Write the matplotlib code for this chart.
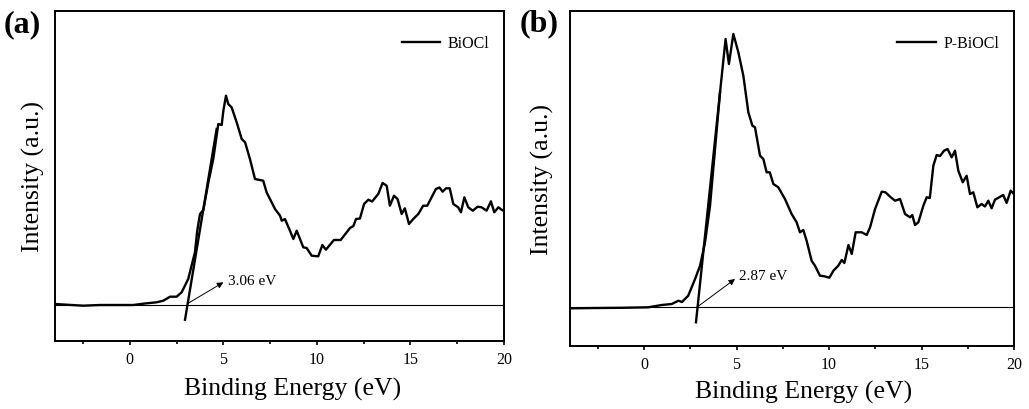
import numpy as np
import matplotlib
matplotlib.use("Agg")
import matplotlib.pyplot as plt

plt.rcParams['font.family'] = ['Liberation Serif', 'DejaVu Serif']

# --- data (intensity in arbitrary units) ---
xa = [-4, -2.49, -1.6, 0.18, 0.9, 1.43, 1.79, 2.15, 2.5, 2.77, 3.12, 3.48, 3.6, 3.75, 3.93,
      4.2, 4.46, 4.73, 4.91, 5.0, 5.14, 5.26, 5.44, 5.71, 5.98, 6.16, 6.42, 6.69, 7.13,
      7.31, 7.58, 7.76, 8.03, 8.12, 8.29, 8.56, 8.74, 8.92, 9.27, 9.45, 9.72, 10.07,
      10.29, 10.48, 10.91, 11.27, 11.59, 11.77, 11.95, 12.09, 12.3, 12.52, 12.75, 12.95,
      13.28, 13.51, 13.73, 13.9, 14.12, 14.31, 14.53, 14.7, 14.92, 15.15, 15.42, 15.68,
      15.9, 16.13, 16.36, 16.55, 16.72, 16.9, 17.1, 17.29, 17.55, 17.7, 17.88, 18.09,
      18.33, 18.59, 18.8, 19.07, 19.3, 19.48, 19.7, 19.87, 20.0]
ya = [37, 35.3, 36, 36, 37.7, 38.7, 40.3, 44.3, 44.3, 48.7, 62, 88.7, 110, 127, 131,
      158.7, 182, 217, 216, 230.3, 245.3, 237, 233.7, 218.7, 202, 198.7, 182, 162, 160.3,
      148.7, 138.7, 132, 125.3, 120.3, 122, 110.3, 102, 110.3, 93.7, 93, 85.3, 84.7,
      96, 91.3, 101, 101, 108.7, 113, 115, 122, 122.5, 137, 141.3, 139.5,
      147, 158, 155.3, 135.3, 145.3, 142, 127, 132.7, 117, 122, 127, 135.3,
      135.3, 143.7, 152, 153.5, 149.3, 152.7, 152.7, 137, 133.7, 128.7, 143.7, 133.7,
      130.3, 134.3, 133.7, 130.3, 139.7, 128.7, 133.7, 131.3, 130]

xb = [-3.9, -2.5, -1.2, 0.23, 0.96, 1.5, 1.86, 2.05, 2.39, 2.76, 3.03, 3.3, 3.57, 3.84,
      4.11, 4.41, 4.59, 4.83, 5.1, 5.37, 5.64, 5.86, 6.0, 6.27, 6.45, 6.63, 6.8, 6.99,
      7.26, 7.62, 7.98, 8.25, 8.43, 8.61, 8.79, 9.06, 9.25, 9.51, 9.75, 10.02, 10.24,
      10.5, 10.69, 10.83, 11.05, 11.23, 11.44, 11.77, 12.04, 12.22, 12.49, 12.85, 13.05,
      13.34, 13.57, 13.84, 14.11, 14.38, 14.5, 14.65, 14.83, 15.1, 15.28, 15.45, 15.64,
      15.82, 16.0, 16.22, 16.41, 16.63, 16.81, 16.99, 17.23, 17.44, 17.62, 17.8, 18.02,
      18.25, 18.43, 18.61, 18.79, 18.97, 19.42, 19.6, 19.82, 20.0]
yb = [37.7, 38, 38.2, 38.7, 41, 42, 45.3, 44, 50.3, 67, 80.3, 103.7, 140.3, 197,
      253.7, 307, 282, 312, 293.7, 270.3, 233.7, 220.3, 218.7, 190.3, 187, 173.7, 173.7, 162,
      158.7, 147, 132, 123.7, 113.7, 116, 105.3, 85.3, 80, 70.3, 69.7, 68.3, 75.3,
      80.3, 86, 83, 101, 92, 113.7, 113.7, 111, 118.7, 137, 154.3, 153.7,
      148.7, 145.3, 147, 132, 128.7, 131, 121, 123.7, 140.3, 148.7, 148, 180.3,
      191, 190, 195.3, 197, 188.7, 195.3, 175.3, 163.7, 170.3, 152, 153.7, 138.7,
      142, 139.5, 145.3, 137.7, 146.3, 151, 143, 155.3, 152]

labels = ['BiOCl', 'P-BiOCl']
panel_tags = ['(a)', '(b)']
gaps = ['3.06 eV', '2.87 eV']
baselines = [36.3, 38.7]
tangent_x = [[2.95, 4.64], [2.81, 4.11]]
tangent_y = [[21.3, 212], [23.7, 253.7]]
arrow_from = [(3.1, 37.5), (2.95, 40)]
arrow_to = [(5.0, 58.7), (4.92, 67)]
text_at = [(5.25, 60), (5.14, 70)]
ytops = [330, 335]

fig = plt.figure(figsize=(10.29, 4.10), dpi=100)
ax_a = fig.add_axes([55 / 1029, 68 / 410, 449 / 1029, 330 / 410])
ax_b = fig.add_axes([570 / 1029, 63 / 410, 444 / 1029, 335 / 410])

for i, (ax, x, y) in enumerate([(ax_a, xa, ya), (ax_b, xb, yb)]):
    ax.plot(x, y, color='black', lw=1.7, label=labels[i])
    ax.axhline(baselines[i], color='black', lw=0.8)
    ax.plot(tangent_x[i], tangent_y[i], color='black', lw=1.7)
    ax.annotate('', xy=arrow_to[i], xytext=arrow_from[i],
                arrowprops=dict(arrowstyle='-|>', color='black', lw=0.7,
                                mutation_scale=9, shrinkA=0, shrinkB=0))
    ax.text(text_at[i][0], text_at[i][1], gaps[i], fontsize=11, va='center', ha='left')

    ax.set_xlim(-4, 20)
    ax.set_ylim(0, ytops[i])
    ax.set_xticks([0, 5, 10, 15, 20])
    ax.set_xticks(np.arange(-2.5, 20, 5), minor=True)
    ax.set_yticks([])
    ax.tick_params(axis='x', which='major', direction='out', length=3, width=1.2,
                   labelsize=11.5, pad=4)
    ax.tick_params(axis='x', which='minor', direction='out', length=2, width=1.2)
    for sp in ax.spines.values():
        sp.set_linewidth(1.4)

    ax.set_xlabel('Binding Energy (eV)', fontsize=18.5)
    ax.set_ylabel('Intensity (a.u.)', fontsize=18.5)
    ax.legend(loc='upper right', bbox_to_anchor=(1.0, 0.97), frameon=False,
              fontsize=11.5, handlelength=2.4, handletextpad=0.5)

ax_a.xaxis.set_label_coords(0.528, -0.11)
ax_b.xaxis.set_label_coords(0.527, -0.1)
ax_a.yaxis.set_label_coords(-0.022, 0.5)
ax_b.yaxis.set_label_coords(-0.036, 0.5)

fig.text(4 / 1029, 1 - 25 / 410, panel_tags[0], fontsize=23, fontweight='bold', va='center')
fig.text(520 / 1029, 1 - 24 / 410, panel_tags[1], fontsize=23, fontweight='bold', va='center')

fig.savefig('out.png', dpi=100)
